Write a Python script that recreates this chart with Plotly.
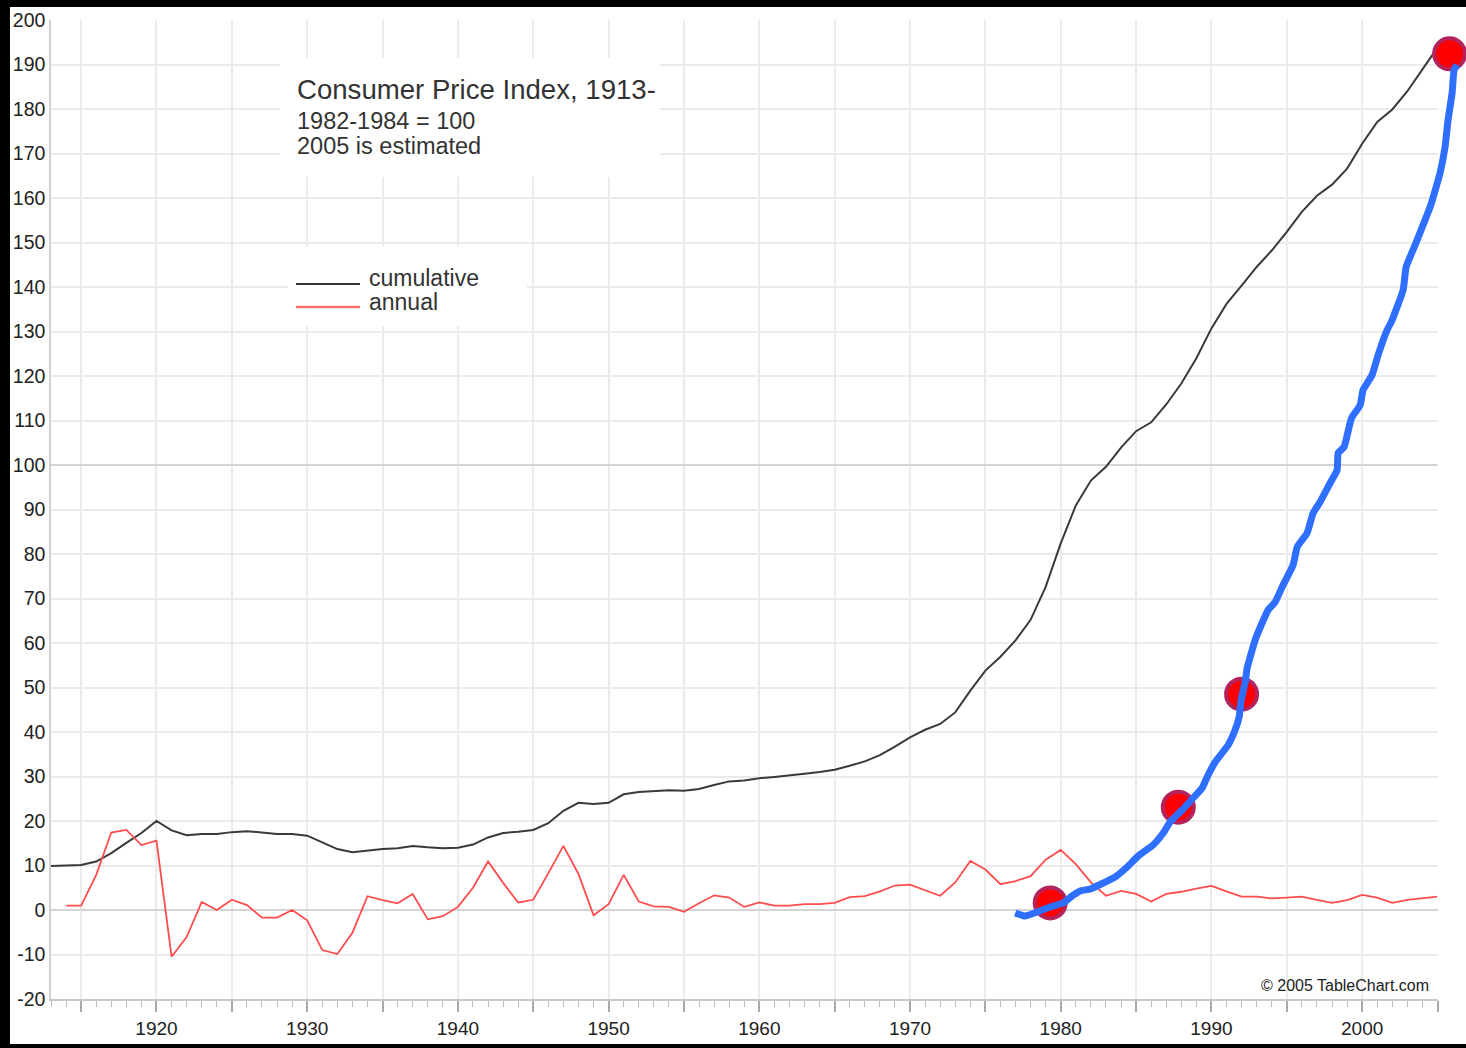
import plotly.graph_objects as go

# ---------------- data ----------------
years = list(range(1913, 2006))
cpi_cumulative = [9.9, 10.0, 10.1, 10.9, 12.8, 15.1, 17.3, 20.0, 17.9, 16.8,
                  17.1, 17.1, 17.5, 17.7, 17.4, 17.1, 17.1, 16.7, 15.2, 13.7,
                  13.0, 13.4, 13.7, 13.9, 14.4, 14.1, 13.9, 14.0, 14.7, 16.3,
                  17.3, 17.6, 18.0, 19.5, 22.3, 24.1, 23.8, 24.1, 26.0, 26.5,
                  26.7, 26.9, 26.8, 27.2, 28.1, 28.9, 29.1, 29.6, 29.9, 30.2,
                  30.6, 31.0, 31.5, 32.4, 33.4, 34.8, 36.7, 38.8, 40.5, 41.8,
                  44.4, 49.3, 53.8, 56.9, 60.6, 65.2, 72.6, 82.4, 90.9, 96.5,
                  99.6, 103.9, 107.6, 109.6, 113.6, 118.3, 124.0, 130.7, 136.2, 140.3,
                  144.5, 148.2, 152.4, 156.9, 160.5, 163.0, 166.6, 172.2, 177.1, 179.9,
                  184.0, 188.9, 193.8]

annual_years = list(range(1914, 2006))
cpi_annual = [1.0, 1.0, 7.9, 17.4, 18.0, 14.6, 15.6, -10.5, -6.1, 1.8,
              0.0, 2.3, 1.1, -1.7, -1.7, 0.0, -2.3, -9.0, -9.9, -5.1,
              3.1, 2.2, 1.5, 3.6, -2.1, -1.4, 0.7, 5.0, 10.9, 6.1,
              1.7, 2.3, 8.3, 14.4, 8.1, -1.2, 1.3, 7.9, 1.9, 0.8,
              0.7, -0.4, 1.5, 3.3, 2.8, 0.7, 1.7, 1.0, 1.0, 1.3,
              1.3, 1.6, 2.9, 3.1, 4.2, 5.5, 5.7, 4.4, 3.2, 6.2,
              11.0, 9.1, 5.8, 6.5, 7.6, 11.3, 13.5, 10.3, 6.2, 3.2,
              4.3, 3.6, 1.9, 3.6, 4.1, 4.8, 5.4, 4.2, 3.0, 3.0,
              2.6, 2.8, 3.0, 2.3, 1.6, 2.2, 3.4, 2.8, 1.6, 2.3,
              2.7, 3.0]

# hand-drawn overlay (blue stroke) and highlight circles
stroke_x = [1976.98, 1977.64, 1978.44, 1979.30, 1980.16, 1980.76, 1981.29, 1981.96,
            1982.82, 1983.61, 1984.41, 1985.14, 1986.13, 1986.80, 1987.26, 1988.06,
            1988.79, 1989.38, 1989.78, 1990.25, 1991.11, 1991.57, 1991.84, 1991.97,
            1992.24, 1992.37, 1992.57, 1992.90, 1993.36, 1993.76, 1994.23, 1994.69,
            1995.42, 1995.69, 1996.35, 1996.75, 1997.21, 1997.88, 1998.34, 1998.41,
            1998.80, 1999.20, 1999.33, 1999.87, 2000.06, 2000.66, 2001.06, 2001.66,
            2001.99, 2002.72, 2002.92, 2003.65, 2004.51, 2005.17, 2005.50, 2005.70,
            2005.97, 2006.10, 2006.30]
stroke_y = [-0.67, -1.35, -0.45, 0.67, 1.57, 3.15, 4.27, 4.72,
            6.07, 7.42, 9.66, 12.13, 14.61, 17.30, 19.78, 22.47,
            25.17, 27.42, 30.34, 33.26, 37.08, 40.45, 43.37, 47.19,
            51.24, 54.38, 56.85, 60.67, 64.49, 67.42, 69.21, 72.58,
            77.53, 81.57, 84.72, 89.21, 91.69, 95.96, 98.88, 102.70,
            104.04, 109.44, 110.79, 113.48, 116.85, 120.22, 124.72, 130.34,
            132.58, 139.33, 144.49, 150.56, 157.98, 165.62, 171.46, 177.53,
            183.60, 188.76, 189.89]
circle_x = [1979.3, 1987.8, 1992.0, 2005.8]
circle_y = [1.6, 23.1, 48.5, 192.4]

x_tick_vals = list(range(1915, 2006, 5))
x_tick_text = [str(v) if v % 10 == 0 else "" for v in x_tick_vals]
y_tick_vals = list(range(-20, 201, 10))
y_tick_text = [str(v) for v in y_tick_vals]

title_lines = ["Consumer Price Index, 1913-", "1982-1984 = 100", "2005 is estimated"]
legend_labels = ["cumulative", "annual"]
credit = "\u00a9 2005 TableChart.com"

# ---------------- geometry helpers ----------------
W, H = 1466, 1048
ML, MT, MB = 51, 20, 49
PW = W - ML
PH = H - MT - MB
X0, X1 = 1913, 2005
Y0, Y1 = -20, 200
X_RIGHT_PX = 1437.5
dom_end = (X_RIGHT_PX - ML) / PW
x2_end = X0 + (X1 - X0) / dom_end


def px(x):
    return (x - ML) / PW


def py(y):
    return (H - MB - y) / PH


def dx(xp):
    return X0 + (xp - ML) / (X_RIGHT_PX - ML) * (X1 - X0)


def dy(yp):
    return Y0 + (H - MB - yp) / PH * (Y1 - Y0)


FONT = "Liberation Sans, Arial, sans-serif"
TXT = "#333333"

fig = go.Figure()
fig.add_trace(go.Scatter(x=years, y=cpi_cumulative, mode="lines", name=legend_labels[0],
                         line=dict(color="#3a3a3a", width=2)))
fig.add_trace(go.Scatter(x=annual_years, y=cpi_annual, mode="lines", name=legend_labels[1],
                         line=dict(color="#ff4d4d", width=1.8)))
fig.add_trace(go.Scatter(x=circle_x, y=circle_y, mode="markers", xaxis="x2", yaxis="y2",
                         cliponaxis=False,
                         marker=dict(size=31, color="#ff0000",
                                     line=dict(color="#b3245c", width=4))))
fig.add_trace(go.Scatter(x=stroke_x, y=stroke_y, mode="lines", xaxis="x2", yaxis="y2",
                         cliponaxis=False,
                         line=dict(color="#2f6fff", width=7, shape="spline", smoothing=0.4)))

shapes = [
    # white boxes behind title / legend (cover the grid)
    dict(type="rect", xref="x", yref="y", x0=dx(280), x1=dx(660), y0=dy(177), y1=dy(58),
         fillcolor="white", line=dict(width=0), layer="between"),
    dict(type="rect", xref="x", yref="y", x0=dx(288), x1=dx(527), y0=dy(326), y1=dy(246),
         fillcolor="white", line=dict(width=0), layer="between"),
    # emphasised 100 line
    dict(type="line", xref="x", yref="y", x0=X0, x1=X1, y0=100, y1=100,
         line=dict(color="#d4d4d4", width=2), layer="between"),
    # legend samples
    dict(type="line", xref="paper", yref="paper", x0=px(296), x1=px(360), y0=py(284), y1=py(284),
         line=dict(color="#333333", width=2)),
    dict(type="line", xref="paper", yref="paper", x0=px(296), x1=px(360), y0=py(307), y1=py(307),
         line=dict(color="#ff7070", width=2.5)),
    # black frame strips
    dict(type="rect", xref="paper", yref="paper", x0=px(0), x1=px(10), y0=py(H), y1=py(0),
         fillcolor="black", line=dict(width=0), layer="above"),
    dict(type="rect", xref="paper", yref="paper", x0=px(0), x1=px(W), y0=py(7), y1=py(0),
         fillcolor="black", line=dict(width=0), layer="above"),
    dict(type="rect", xref="paper", yref="paper", x0=px(0), x1=px(W), y0=py(H), y1=py(1044),
         fillcolor="black", line=dict(width=0), layer="above"),
]

annotations = [
    dict(text=title_lines[0], x=px(295), y=py(89), font=dict(size=27.6, color=TXT, family=FONT)),
    dict(text=title_lines[1], x=px(295), y=py(121), font=dict(size=23.5, color=TXT, family=FONT)),
    dict(text=title_lines[2], x=px(295), y=py(146), font=dict(size=23.5, color=TXT, family=FONT)),
    dict(text=legend_labels[0], x=px(367), y=py(278), font=dict(size=23, color=TXT, family=FONT)),
    dict(text=legend_labels[1], x=px(367), y=py(302), font=dict(size=23, color=TXT, family=FONT)),
]
for a in annotations:
    a.update(xref="paper", yref="paper", xanchor="left", yanchor="middle", showarrow=False)
annotations.append(dict(text=credit, x=px(1431), y=py(985), xref="paper", yref="paper",
                        xanchor="right", yanchor="middle", showarrow=False,
                        font=dict(size=16, color="#222222", family=FONT)))

fig.update_layout(
    width=W, height=H,
    margin=dict(l=ML, r=0, t=MT, b=MB, pad=0),
    paper_bgcolor="white", plot_bgcolor="rgba(0,0,0,0)",
    showlegend=False,
    font=dict(family=FONT, color="#222222"),
    shapes=shapes, annotations=annotations,
    xaxis=dict(domain=[0, dom_end], range=[X0, X1], anchor="y",
               tickmode="array", tickvals=x_tick_vals, ticktext=x_tick_text,
               ticks="outside", ticklen=11, tickwidth=1.5, tickcolor="#aaaaaa",
               showgrid=True, gridcolor="#ebebeb", gridwidth=1.5,
               showline=True, linecolor="#c8c8c8", linewidth=2,
               zeroline=False,
               minor=dict(dtick=1, tick0=1913, ticks="outside", ticklen=6,
                          tickcolor="#bbbbbb", tickwidth=1, showgrid=False),
               tickfont=dict(size=19, color="#222222", family=FONT),
               ticklabelstandoff=0),
    yaxis=dict(domain=[0, 1], range=[Y0, Y1], anchor="x",
               tickmode="array", tickvals=y_tick_vals, ticktext=y_tick_text, ticks="",
               showgrid=True, gridcolor="#ebebeb", gridwidth=1.5,
               zeroline=True, zerolinecolor="#d4d4d4", zerolinewidth=2,
               showline=True, linecolor="#d0d0d0", linewidth=1.5,
               tickfont=dict(size=19.5, color="#222222", family=FONT),
               ticklabelstandoff=0),
    xaxis2=dict(domain=[0, 1], range=[X0, x2_end], anchor="y2", visible=False),
    yaxis2=dict(domain=[0, 1], range=[Y0, Y1], anchor="x2", visible=False),
)

fig.write_html("out.html",
               config={"displayModeBar": False},
               post_script="document.body.style.margin='0px';"
                           "document.body.style.overflow='hidden';")
